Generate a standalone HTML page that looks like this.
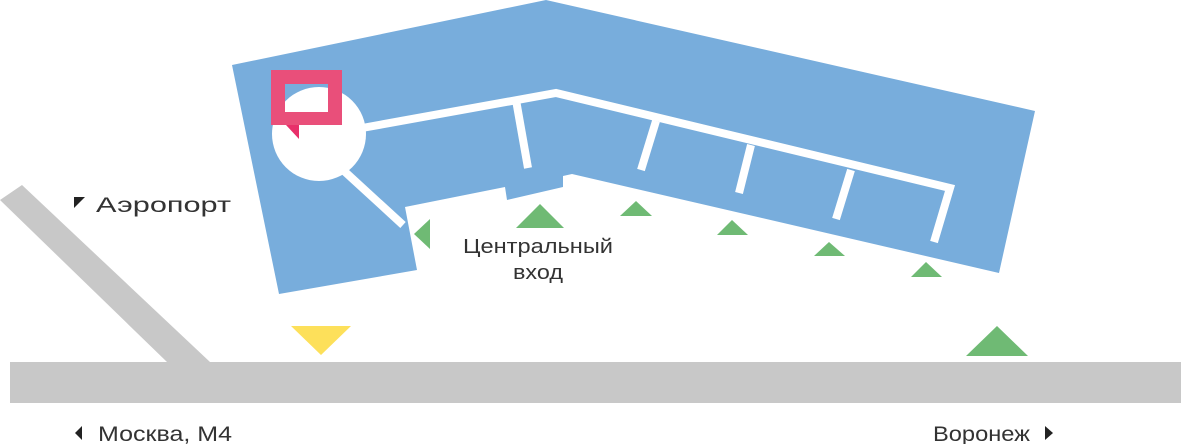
<!DOCTYPE html>
<html><head><meta charset="utf-8"><style>
html,body{margin:0;padding:0;background:#fff;}
svg{display:block;}
text{font-family:"Liberation Sans","DejaVu Sans",sans-serif;fill:#333;}
</style></head><body>
<svg width="1181" height="444" viewBox="0 0 1181 444" xmlns="http://www.w3.org/2000/svg">
<polygon points="0,200 22,185 210,362 167,362" fill="#c8c8c8"/>
<rect x="10" y="362" width="1171" height="41" fill="#c8c8c8"/>
<polygon points="232,65 546,0 1035,111 999,273 572,174 563,176 563,187 507,200 505,187 405,207 417,270 279,294" fill="#78addc"/>
<g stroke="#fff" stroke-width="8" fill="none">
<polyline points="362,128 556,93 950,188 934,242"/>
<line x1="516" y1="100" x2="528" y2="168"/>
<line x1="656" y1="121" x2="641" y2="170"/>
<line x1="751" y1="145" x2="739" y2="193"/>
<line x1="851" y1="170" x2="836" y2="219"/>
<line x1="343" y1="170" x2="403" y2="225"/>
</g>
<circle cx="319" cy="134" r="47" fill="#fff"/>
<path d="M271,70 H342 V125 H271 Z M285,84 V112 H328 V84 Z" fill="#e94f7a" fill-rule="evenodd"/>
<polygon points="286,125 299,125 299,139" fill="#e8306a"/>
<g fill="#6fba74">
<polygon points="414,234 430,219 430,249"/>
<polygon points="516,228 540,204 564,228"/>
<polygon points="620,216 636,201 652,216"/>
<polygon points="717,235 732,220 748,235"/>
<polygon points="814,256 829,242 845,256"/>
<polygon points="911,277 926,262 942,277"/>
<polygon points="966,356 997,326 1028,356"/>
</g>
<polygon points="291,326 351,326 321,355" fill="#fde05a"/>
<polygon points="74,197 85,197 74,208" fill="#222"/>
<text x="96" y="212" font-size="21" textLength="135" lengthAdjust="spacingAndGlyphs">Аэропорт</text>
<text x="463" y="253" font-size="20" textLength="150" lengthAdjust="spacingAndGlyphs">Центральный</text>
<text x="513" y="279" font-size="20" textLength="50" lengthAdjust="spacingAndGlyphs">вход</text>
<polygon points="82,426 82,440 75,433" fill="#222"/>
<text x="98" y="441" font-size="21" textLength="134" lengthAdjust="spacingAndGlyphs">Москва, М4</text>
<text x="933" y="441" font-size="21" textLength="97" lengthAdjust="spacingAndGlyphs">Воронеж</text>
<polygon points="1045,426 1045,440 1053,433" fill="#222"/>
</svg>
</body></html>
